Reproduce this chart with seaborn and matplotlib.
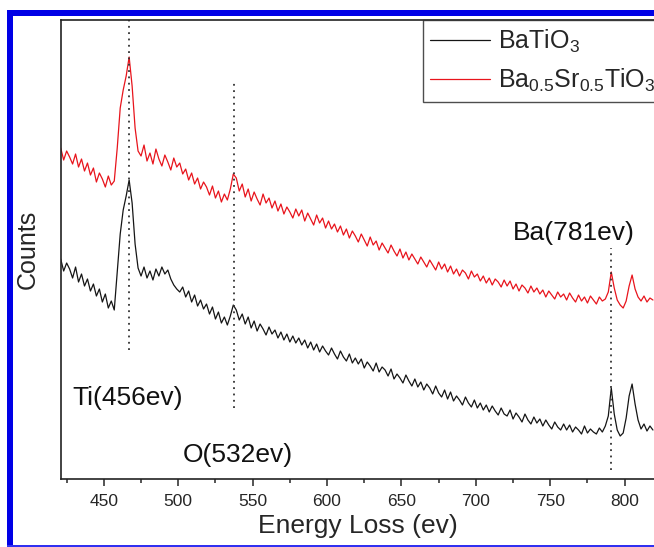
import numpy as np
import pandas as pd
import seaborn as sns
import matplotlib.pyplot as plt
from matplotlib.ticker import MultipleLocator
from matplotlib.patches import Rectangle

# energy loss grid (ev), one sample every 2 ev (421 ... 819)
energy = np.arange(421, 821, 2)

# BaTiO3 counts (a.u.), one row = 20 ev
bto_counts = [
    241, 229, 237, 231, 222, 233, 218, 226, 214, 221,
    209, 216, 204, 211, 198, 206, 192, 199, 190, 228,
    266, 290, 304, 320, 297, 256, 232, 224, 233, 222,
    229, 220, 231, 224, 233, 226, 230, 221, 215, 211,
    208, 213, 203, 209, 198, 205, 194, 200, 191, 196,
    186, 193, 181, 188, 177, 183, 175, 184, 195, 190,
    180, 186, 176, 183, 172, 179, 169, 176, 171, 165,
    173, 166, 170, 162, 168, 160, 166, 158, 164, 157,
    162, 155, 160, 152, 158, 150, 156, 148, 154, 149,
    145, 152, 146, 141, 149, 143, 139, 146, 137, 142,
    136, 141, 132, 138, 134, 129, 137, 128, 133, 130,
    124, 131, 121, 126, 122, 117, 125, 119, 114, 121,
    113, 118, 110, 116, 112, 106, 114, 107, 103, 110,
    101, 108, 99, 104, 100, 95, 103, 97, 93, 100,
    92, 97, 90, 95, 88, 94, 89, 85, 92, 86,
    84, 90, 81, 87, 83, 78, 86, 80, 76, 83,
    77, 81, 74, 80, 75, 71, 78, 73, 70, 76,
    70, 75, 68, 73, 70, 66, 74, 67, 71, 68,
    66, 72, 68, 74, 84, 112, 86, 70, 64, 67,
    82, 104, 116, 96, 80, 71, 76, 69, 74, 70,
]

# Ba0.5Sr0.5TiO3 counts (a.u.)
bsto_counts = [
    352, 340, 349, 343, 336, 346, 333, 341, 329, 337,
    325, 332, 318, 327, 321, 313, 324, 315, 319, 352,
    392, 410, 424, 443, 414, 372, 349, 344, 355, 339,
    347, 336, 351, 341, 334, 345, 338, 330, 342, 333,
    337, 326, 331, 320, 327, 316, 322, 311, 318, 313,
    305, 314, 302, 309, 298, 306, 300, 311, 326, 322,
    309, 316, 303, 311, 299, 308, 301, 295, 306, 297,
    302, 292, 299, 289, 296, 286, 293, 288, 282, 291,
    284, 290, 279, 287, 281, 275, 285, 277, 282, 272,
    279, 271, 276, 268, 274, 265, 271, 262, 269, 264,
    258, 266, 260, 254, 263, 255, 259, 250, 257, 252,
    247, 255, 249, 244, 251, 242, 248, 240, 246, 241,
    236, 243, 238, 233, 240, 235, 230, 238, 231, 236,
    228, 234, 226, 231, 224, 230, 227, 221, 229, 223,
    226, 219, 224, 217, 222, 215, 221, 218, 213, 220,
    214, 219, 211, 216, 209, 215, 212, 207, 214, 208,
    212, 206, 210, 203, 209, 205, 201, 208, 203, 206,
    200, 207, 202, 198, 205, 199, 203, 197, 204, 200,
    196, 203, 199, 201, 208, 228, 212, 200, 195, 192,
    199, 214, 225, 211, 203, 199, 204, 198, 202, 200,
]

# edge markers: position, dotted line span, label text and label anchor
edge_pos = [467, 537.5, 791]
edge_top = [480, 418, 252]
edge_bottom = [150, 92, 30]
edge_labels = ['Ti(456ev)', 'O(532ev)', 'Ba(781ev)']
label_x = [429, 503, 725]
label_y = [95, 38, 260]

xticks = [450, 500, 550, 600, 650, 700, 750, 800]

df = pd.DataFrame({'energy': energy, 'BaTiO3': bto_counts, 'BSTO': bsto_counts})

sns.set_style('white')
plt.rcParams['font.family'] = ['Liberation Sans', 'DejaVu Sans']
plt.rcParams['mathtext.default'] = 'regular'

fig = plt.figure(figsize=(6.54, 5.47), dpi=100)
ax = fig.add_axes([0.0928, 0.1243, 0.9306, 0.8391])

sns.lineplot(data=df, x='energy', y='BaTiO3', color='#151515', linewidth=0.9,
             label='BaTiO$_3$', ax=ax)
sns.lineplot(data=df, x='energy', y='BSTO', color='#e8141c', linewidth=0.9,
             label='Ba$_{0.5}$Sr$_{0.5}$TiO$_3$', ax=ax)

for x0, y0, y1 in zip(edge_pos, edge_bottom, edge_top):
    ax.vlines(x0, y0, y1, colors='#333333', linestyles=(0, (1, 2.5)), linewidth=1.3)
for txt, tx, ty in zip(edge_labels, label_x, label_y):
    ax.text(tx, ty, txt, fontsize=19, ha='left', va='baseline', color='#111111')

ax.set_xlim(421, 830)
ax.set_ylim(21, 480)
ax.set_xticks(xticks)
ax.set_xticklabels([str(t) for t in xticks])
ax.xaxis.set_minor_locator(MultipleLocator(25))
ax.set_yticks([])
ax.tick_params(axis='x', which='major', direction='out', length=5, width=1.1,
               labelsize=12.5, pad=6, bottom=True)
ax.tick_params(axis='x', which='minor', direction='out', length=3, width=1.1, bottom=True)

for sp in ax.spines.values():
    sp.set_color('#222222')
    sp.set_linewidth(1.2)

ax.set_xlabel('Energy Loss (ev)', fontsize=19)
ax.set_ylabel('Counts', fontsize=18)
ax.xaxis.set_label_coords(0.489, -0.076)
ax.yaxis.set_label_coords(-0.034, 0.5)

leg = ax.legend(loc='upper left', bbox_to_anchor=(0.595, 1.0), borderaxespad=0,
                fontsize=18, frameon=True, fancybox=False, handlelength=2.4,
                handletextpad=0.3, labelspacing=0.5, borderpad=0.3)
leg.get_frame().set_edgecolor('#222222')
leg.get_frame().set_linewidth(1.0)
for line in leg.get_lines():
    line.set_linewidth(0.9)

# blue frame of the original picture (left, top, bottom)
fig.patches.append(Rectangle((7 / 654, 0), 6 / 654, 1 - 10 / 547, transform=fig.transFigure,
                             facecolor='#0000e6', edgecolor='none', zorder=5))
fig.patches.append(Rectangle((7 / 654, 1 - 16 / 547), 1, 6 / 547, transform=fig.transFigure,
                             facecolor='#0000e6', edgecolor='none', zorder=5))
fig.patches.append(Rectangle((7 / 654, 0), 1, 2.5 / 547, transform=fig.transFigure,
                             facecolor='#3030f0', edgecolor='none', zorder=5))

fig.savefig('out.png', dpi=100)
